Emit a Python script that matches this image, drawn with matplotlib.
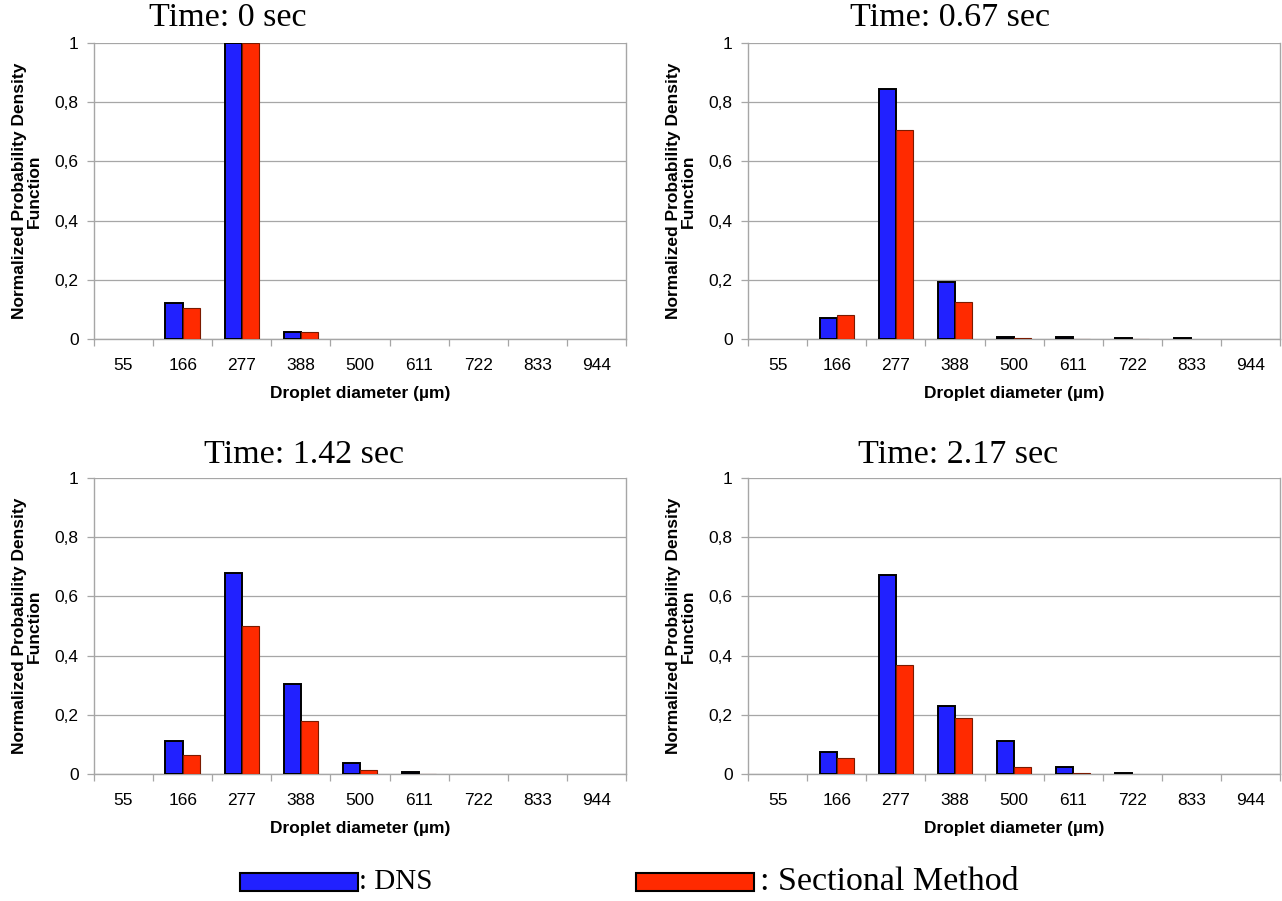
import numpy as np
import matplotlib
matplotlib.use('Agg')
import matplotlib.pyplot as plt
from matplotlib.patches import Rectangle

diameters = ['55', '166', '277', '388', '500', '611', '722', '833', '944']
times = ['Time: 0 sec', 'Time: 0.67 sec', 'Time: 1.42 sec', 'Time: 2.17 sec']

# normalized PDF per diameter class, one list per time
dns_t0 = [0, 0.122, 1.0, 0.025, 0, 0, 0, 0, 0]
sec_t0 = [0, 0.105, 1.0, 0.022, 0, 0, 0, 0, 0]
dns_t1 = [0, 0.072, 0.845, 0.192, 0.008, 0.005, 0.004, 0.003, 0]
sec_t1 = [0, 0.082, 0.705, 0.125, 0.002, 0.001, 0.001, 0, 0]
dns_t2 = [0, 0.110, 0.680, 0.305, 0.038, 0.005, 0, 0, 0]
sec_t2 = [0, 0.065, 0.500, 0.178, 0.012, 0.001, 0, 0, 0]
dns_t3 = [0, 0.075, 0.672, 0.228, 0.112, 0.022, 0.004, 0, 0]
sec_t3 = [0, 0.055, 0.368, 0.190, 0.022, 0.003, 0, 0, 0]

dns = [dns_t0, dns_t1, dns_t2, dns_t3]
sec = [sec_t0, sec_t1, sec_t2, sec_t3]

BLUE = '#2121ff'
RED = '#ff2a00'
GRID = '#a6a6a6'
SANS = 'Liberation Sans'
SERIF = 'Liberation Serif'

fig = plt.figure(figsize=(12.82, 9.01), dpi=100)

# axes boxes in figure fraction [left, bottom, width, height]
boxes = [
    [0.0733, 0.6238, 0.415, 0.3285],
    [0.5835, 0.6238, 0.415, 0.3285],
    [0.0733, 0.1410, 0.415, 0.3285],
    [0.5835, 0.1410, 0.415, 0.3285],
]
title_pos = [(228, 18), (950, 18), (304, 455), (958, 455)]

x = np.arange(len(diameters))
w = 0.29

for i in range(4):
    ax = fig.add_axes(boxes[i])
    d = np.array(dns[i])
    s = np.array(sec[i])
    # no outline on empty classes, like the original
    ax.bar(x - w / 2, d, width=w, color=BLUE, edgecolor='black',
           linewidth=np.where(d > 0, 1.4, 0), zorder=3)
    ax.bar(x + w / 2, s, width=w, color=RED, edgecolor='#7a1a00',
           linewidth=np.where(s > 0, 0.8, 0), zorder=3)

    ax.set_xlim(-0.5, len(diameters) - 0.5)
    ax.set_ylim(0, 1)
    ax.set_yticks([0, 0.2, 0.4, 0.6, 0.8, 1.0])
    ax.set_yticklabels(['0', '0,2', '0,4', '0,6', '0,8', '1'], family=SANS)
    ax.yaxis.grid(True, color=GRID, linewidth=0.9, zorder=0)
    ax.set_axisbelow(True)

    ax.set_xticks(x)
    ax.set_xticklabels(diameters, family=SANS)
    ax.set_xticks(np.arange(len(diameters) + 1) - 0.5, minor=True)
    ax.tick_params(axis='x', which='major', length=0, pad=14, labelsize=12.5)
    ax.tick_params(axis='x', which='minor', length=5, color=GRID, width=0.9)
    ax.tick_params(axis='y', length=5, color=GRID, width=0.9, labelsize=12.5, pad=6)

    for sp in ['left', 'bottom', 'right']:
        ax.spines[sp].set_color(GRID)
        ax.spines[sp].set_linewidth(1.0)
    ax.spines['top'].set_visible(False)

    ax.set_xlabel('Droplet diameter (µm)', fontsize=12.5, fontweight='bold',
                  family=SANS, labelpad=9)
    ax.set_ylabel('Normalized Probability Density\nFunction', fontsize=12.5,
                  fontweight='bold', family=SANS, labelpad=9, linespacing=1.05)

    tx, ty = title_pos[i]
    fig.text(tx / 1282, 1 - ty / 901, times[i], ha='center', va='center',
             fontsize=24.5, family=SERIF)

# legend drawn in figure pixels to mimic the original layout
def fig_rect(x0, y0, x1, y1, color):
    fig.patches.append(Rectangle((x0 / 1282, 1 - y1 / 901), (x1 - x0) / 1282, (y1 - y0) / 901,
                                 transform=fig.transFigure, facecolor=color,
                                 edgecolor='black', linewidth=1.5))

fig_rect(240, 873, 358, 891, BLUE)
fig_rect(636, 873, 754, 891, RED)
fig.text(359 / 1282, 1 - 882 / 901, ': DNS', ha='left', va='center',
         fontsize=21, family=SERIF)
fig.text(760 / 1282, 1 - 882 / 901, ': Sectional Method', ha='left', va='center',
         fontsize=24.5, family=SERIF)

fig.savefig('out.png', dpi=100)
